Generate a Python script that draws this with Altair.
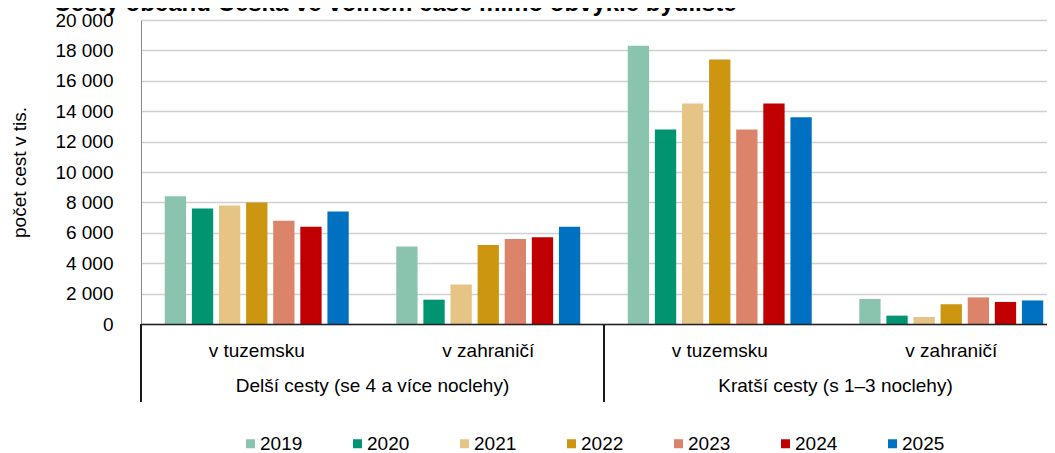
import altair as alt
import pandas as pd

# ---- data ----
title_text = "Cesty občanů Česka ve volném čase mimo obvyklé bydliště"
y_title = "počet cest v tis."
years = ["2019", "2020", "2021", "2022", "2023", "2024", "2025"]
colors = ["#8AC3AE", "#009470", "#E6C485", "#CC9611", "#DB846A", "#C00000", "#0070C0"]
trip_labels = ["Delší cesty (se 4 a více noclehy)", "Kratší cesty (s 1–3 noclehy)"]
dest_labels = ["v tuzemsku", "v zahraničí"]

longer_domestic = [8400, 7600, 7800, 8000, 6800, 6400, 7400]
longer_abroad = [5100, 1600, 2600, 5200, 5600, 5700, 6400]
shorter_domestic = [18300, 12800, 14500, 17400, 12800, 14500, 13600]
shorter_abroad = [1650, 550, 460, 1300, 1750, 1450, 1550]

series = [longer_domestic, longer_abroad, shorter_domestic, shorter_abroad]
keys = [f"{t}|{d}" for t in trip_labels for d in dest_labels]

rows = []
for k, vals in zip(keys, series):
    for y, v in zip(years, vals):
        rows.append({"key": k, "year": y, "value": v})
df = pd.DataFrame(rows)

inner_df = pd.DataFrame({"key": keys, "label": [k.split("|")[1] for k in keys]})
outer_df = pd.DataFrame({"key": [keys[0], keys[2]], "label": trip_labels})
div_left_df = pd.DataFrame({"key": [keys[0], keys[2]]})
div_right_df = pd.DataFrame({"key": [keys[3]]})
title_df = pd.DataFrame({"t": [title_text]})

FONT = "Liberation Sans"
W, H = 926, 304

xscale = alt.Scale(domain=keys, paddingInner=0, paddingOuter=0)

bars = alt.Chart(df).mark_bar().encode(
    x=alt.X("key:N", scale=xscale, sort=keys,
            axis=alt.Axis(labels=False, ticks=False, title=None, grid=False,
                          domain=True, domainColor="#222222", domainWidth=1.6, zindex=1)),
    xOffset=alt.XOffset("year:N", sort=years,
                        scale=alt.Scale(domain=years, paddingInner=0.214, paddingOuter=0.877)),
    y=alt.Y("value:Q", scale=alt.Scale(domain=[0, 20000], nice=False),
            axis=alt.Axis(values=list(range(0, 20001, 2000)),
                          labelExpr="datum.value == 0 ? '0' : format(datum.value/1000, 'd') + ' 000'",
                          grid=True, gridColor="#d0d0d0", gridWidth=1.3,
                          domain=True, domainColor="#888888", domainWidth=1,
                          ticks=False, labelPadding=28, labelFontSize=19, labelFont=FONT,
                          labelColor="#000000",
                          title=y_title, titleFont=FONT, titleFontSize=19,
                          titleFontWeight="normal", titleColor="#000000",
                          titleX=-122, titleY=152, titleAngle=270,
                          titleAlign="center", titleBaseline="middle")),
    color=alt.Color("year:N", sort=years,
                    scale=alt.Scale(domain=years, range=colors),
                    legend=alt.Legend(orient="none", legendX=100, legendY=414,
                                      direction="horizontal", columns=7, title=None,
                                      symbolType="square", symbolSize=81,
                                      symbolStrokeWidth=0, symbolOpacity=1,
                                      labelFontSize=19, labelFont=FONT, labelColor="#000000",
                                      labelOffset=0, columnPadding=45, padding=0)),
)

inner = alt.Chart(inner_df).mark_text(font=FONT, fontSize=19, baseline="alphabetic",
                                      color="#000000").encode(
    x=alt.X("key:N", scale=xscale, sort=keys),
    y=alt.value(337),
    text="label:N",
)

outer = alt.Chart(outer_df).mark_text(font=FONT, fontSize=19, baseline="alphabetic",
                                      color="#000000").encode(
    x=alt.X("key:N", scale=xscale, sort=keys, bandPosition=1),
    y=alt.value(372),
    text="label:N",
)

div_left = alt.Chart(div_left_df).mark_rule(color="#000000", strokeWidth=1.8).encode(
    x=alt.X("key:N", scale=xscale, sort=keys, bandPosition=0),
    y=alt.value(304), y2=alt.value(382),
)
div_right = alt.Chart(div_right_df).mark_rule(color="#000000", strokeWidth=1.8).encode(
    x=alt.X("key:N", scale=xscale, sort=keys, bandPosition=1),
    y=alt.value(304), y2=alt.value(382),
)

title = alt.Chart(title_df).mark_text(font=FONT, fontSize=24, fontWeight="bold",
                                      baseline="alphabetic", align="center",
                                      color="#000000").encode(
    x=alt.value(254), y=alt.value(-9), text="t:N",
)

chart = alt.layer(bars, inner, outer, div_left, div_right, title).properties(
    width=W, height=H,
    autosize=alt.AutoSizeParams(type="none"),
    padding={"left": 133, "top": 12, "right": -20, "bottom": 131},
    background="white",
).configure_view(stroke=None)

chart.save("out.html", embed_options={"renderer": "svg", "actions": False})
